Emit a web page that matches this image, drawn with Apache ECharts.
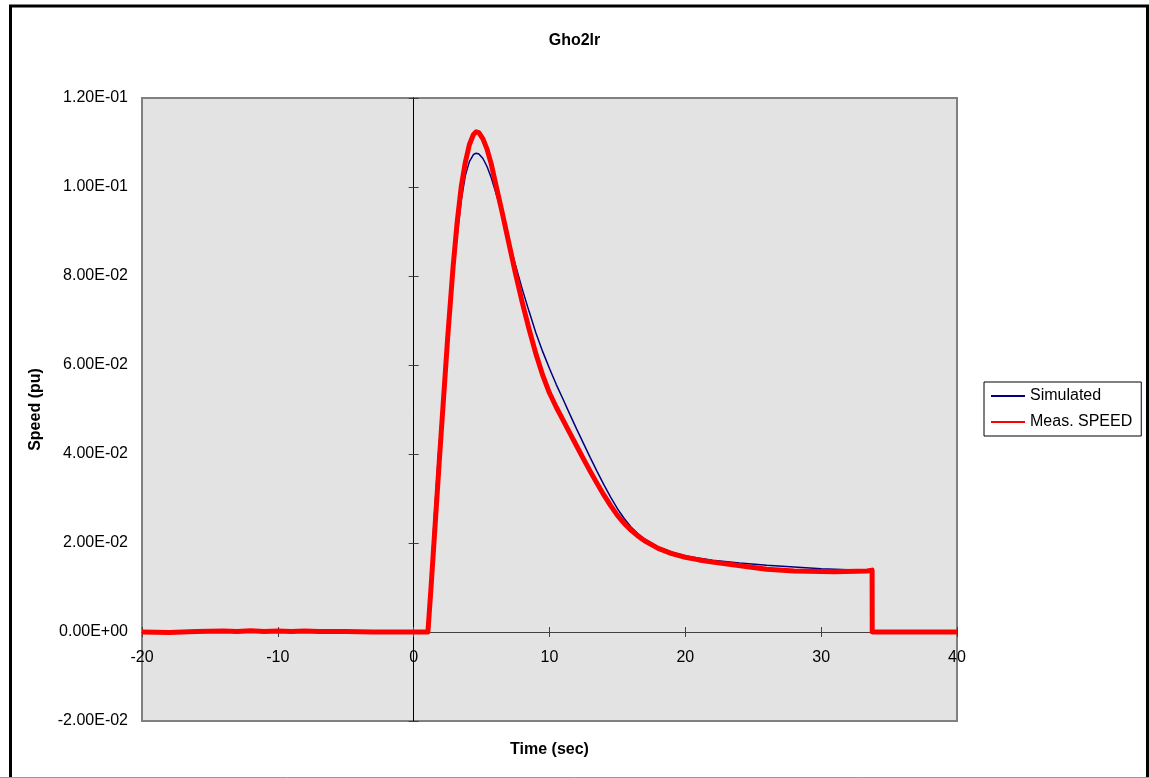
<!DOCTYPE html>
<html>
<head>
<meta charset="utf-8">
<script src="https://cdn.jsdelivr.net/npm/echarts@6/dist/echarts.min.js"></script>
<style>
html,body{margin:0;padding:0;background:#fff;}
#chart{width:1149px;height:778px;}
</style>
</head>
<body>
<div id="chart"></div>
<script>
// ---- Data ----
const chartTitle = 'Gho2lr';
const xAxisTitle = 'Time (sec)';
const yAxisTitle = 'Speed (pu)';
const seriesNames = ['Simulated', 'Meas. SPEED'];

const xTicks = [-20, -10, 0, 10, 20, 30, 40];
const yTicks = [-0.02, 0, 0.02, 0.04, 0.06, 0.08, 0.10, 0.12];

// Simulated (time in s, speed in pu)
const simTime = [-20, -10, 0, 0.95, 1.1, 1.3, 1.5, 1.8, 2.1, 2.5, 2.9, 3.2, 3.5, 3.8, 4.1, 4.4, 4.6, 4.8, 5.1, 5.4, 5.7, 6.0, 6.5, 7.0, 7.5, 8.0, 8.5, 9.0, 9.5, 10.0, 10.5, 11.0, 11.5, 12.0, 12.5, 13.0, 13.5, 14.0, 14.5, 15.0, 15.5, 16.0, 16.5, 17.0, 18.0, 19.0, 20.0, 22.0, 24.0, 26.0, 28.0, 30.0, 32.0, 33.75, 33.76, 40];
const simSpeed = [0, 0, 0, 0, 0.004, 0.014, 0.025, 0.039, 0.051, 0.066, 0.080, 0.089, 0.097, 0.1025, 0.1057, 0.1073, 0.1076, 0.1074, 0.1064, 0.1046, 0.1022, 0.0992, 0.0940, 0.0882, 0.0824, 0.0770, 0.0720, 0.0672, 0.0630, 0.0592, 0.0556, 0.0523, 0.0489, 0.0456, 0.0424, 0.0392, 0.0361, 0.0331, 0.0303, 0.0277, 0.0255, 0.0236, 0.0221, 0.0209, 0.0191, 0.0180, 0.0171, 0.0161, 0.0155, 0.0150, 0.0146, 0.0142, 0.0140, 0.0139, 0, 0];

// Measured speed
const measTime = [-20, -18, -16, -14, -13, -12, -11, -10, -9, -8, -7, -6, -5, -3, -1, 0, 1.05, 1.3, 1.6, 1.9, 2.1, 2.5, 2.9, 3.2, 3.5, 3.8, 4.1, 4.4, 4.6, 4.8, 5.1, 5.4, 5.7, 6.0, 6.5, 7.0, 7.5, 8.0, 8.5, 9.0, 9.5, 10.0, 10.5, 11.0, 11.5, 12.0, 12.5, 13.0, 13.5, 14.0, 14.5, 15.0, 15.5, 16.0, 16.5, 17.0, 18.0, 19.0, 20.0, 21.0, 22.0, 23.5, 25.0, 26.0, 28.0, 31.0, 33.4, 33.75, 33.76, 36, 40];
const measSpeed = [0, -0.0001, 0.0001, 0.0002, 0.0001, 0.0003, 0.0001, 0.0002, 0.0001, 0.0002, 0.0001, 0.0001, 0.0001, 0, 0, 0, 0, 0.011, 0.025, 0.039, 0.048, 0.066, 0.082, 0.092, 0.100, 0.1055, 0.1095, 0.1118, 0.1124, 0.1122, 0.1108, 0.1085, 0.1053, 0.1012, 0.0945, 0.0875, 0.0805, 0.0740, 0.0680, 0.0625, 0.0577, 0.0537, 0.0505, 0.0476, 0.0447, 0.0418, 0.0389, 0.0361, 0.0334, 0.0308, 0.0284, 0.0262, 0.0244, 0.0229, 0.0216, 0.0205, 0.0188, 0.0176, 0.0168, 0.0162, 0.0157, 0.0151, 0.0145, 0.0141, 0.0137, 0.01355, 0.0137, 0.0139, 0, 0, 0];

// ---- Build the chart ----
function pairs(xs, ys) { return xs.map((x, i) => [x, ys[i]]); }
function sci(v) {
  const s = Number(v).toExponential(2);
  const parts = s.split('e');
  const n = parseInt(parts[1], 10);
  return parts[0] + 'E' + (n < 0 ? '-' : '+') + String(Math.abs(n)).padStart(2, '0');
}

const FONT = 'Liberation Sans, Arial, sans-serif';
const xMin = xTicks[0], xMax = xTicks[xTicks.length - 1], xInt = xTicks[1] - xTicks[0];
const yMin = yTicks[0], yMax = yTicks[yTicks.length - 1], yInt = 0.02;
const gridH = 623;
// x axis sits on y = 0: shift it up from the grid bottom by the scale position of 0
const xAxisOffset = -gridH * (0 - yMin) / (yMax - yMin);

const chart = echarts.init(document.getElementById('chart'));
const baseX = { type: 'value', min: xMin, max: xMax, interval: xInt, splitLine: { show: false } };
const baseY = { type: 'value', min: yMin, max: yMax, interval: yInt, splitLine: { show: false } };

chart.setOption({
  animation: false,
  textStyle: { fontFamily: FONT, color: '#000' },
  title: {
    text: chartTitle, left: 'center', top: 33, padding: 0,
    textStyle: { fontFamily: FONT, fontSize: 16, fontWeight: 'bold', color: '#000' }
  },
  grid: {
    left: 142, top: 98, width: 815, height: gridH,
    show: true, backgroundColor: '#E3E3E3', borderColor: '#808080', borderWidth: 2,
    containLabel: false, outerBoundsMode: 'none'
  },
  legend: {
    orient: 'vertical', left: 984, top: 382,
    padding: [6, 9, 6, 6], itemGap: 10, itemWidth: 34, itemHeight: 14,
    borderColor: '#000', borderWidth: 1, backgroundColor: '#fff', borderRadius: 0,
    itemStyle: { opacity: 0 },
    textStyle: { fontFamily: FONT, fontSize: 16, color: '#000' },
    data: seriesNames
  },
  xAxis: [
    Object.assign({}, baseX, {
      position: 'bottom', offset: xAxisOffset,
      name: xAxisTitle, nameLocation: 'middle', nameGap: 110,
      nameTextStyle: { fontFamily: FONT, fontSize: 16, fontWeight: 'bold', color: '#000' },
      axisLine: { show: true, onZero: false, lineStyle: { color: '#404040', width: 1 } },
      axisTick: { show: true, inside: false, length: 5, lineStyle: { color: '#404040' } },
      axisLabel: { show: true, margin: 18, fontFamily: FONT, fontSize: 16, color: '#000' }
    }),
    Object.assign({}, baseX, {
      position: 'bottom', offset: xAxisOffset,
      axisLine: { show: true, onZero: false, lineStyle: { color: '#404040', width: 1 } },
      axisTick: { show: true, inside: true, length: 5, lineStyle: { color: '#404040' } },
      axisLabel: { show: false }
    })
  ],
  yAxis: [
    Object.assign({}, baseY, {
      position: 'left',
      name: yAxisTitle, nameLocation: 'middle', nameGap: 98, nameRotate: 90,
      nameTextStyle: { fontFamily: FONT, fontSize: 16, fontWeight: 'bold', color: '#000' },
      axisLine: { show: false, onZero: false },
      axisTick: { show: false },
      axisLabel: { show: true, margin: 14, fontFamily: FONT, fontSize: 16, color: '#000', formatter: sci }
    }),
    Object.assign({}, baseY, {
      position: 'left',
      axisLine: { show: true, onZero: true, onZeroAxisIndex: 0, lineStyle: { color: '#000', width: 1 } },
      axisTick: { show: true, inside: true, length: 5, lineStyle: { color: '#404040' } },
      axisLabel: { show: false }
    }),
    Object.assign({}, baseY, {
      position: 'left',
      axisLine: { show: true, onZero: true, onZeroAxisIndex: 0, lineStyle: { color: '#000', width: 1 } },
      axisTick: { show: true, inside: false, length: 5, lineStyle: { color: '#404040' } },
      axisLabel: { show: false }
    })
  ],
  series: [
    {
      name: seriesNames[0], type: 'line', xAxisIndex: 0, yAxisIndex: 0,
      data: pairs(simTime, simSpeed), showSymbol: false, symbol: 'none',
      lineStyle: { color: '#000080', width: 1.5 }, itemStyle: { color: '#000080' }, z: 3
    },
    {
      name: seriesNames[1], type: 'line', xAxisIndex: 0, yAxisIndex: 0,
      data: pairs(measTime, measSpeed), showSymbol: false, symbol: 'none',
      lineStyle: { color: '#FF0000', width: 5, join: 'round' }, itemStyle: { color: '#FF0000' }, z: 4
    }
  ],
  graphic: [
    { type: 'rect', silent: true, z: 100, shape: { x: 10.5, y: 6, width: 1137, height: 800 }, style: { fill: 'none', stroke: '#000', lineWidth: 3 } },
    { type: 'line', silent: true, z: 100, shape: { x1: 0, y1: 777.5, x2: 1149, y2: 777.5 }, style: { stroke: '#999', lineWidth: 1 } }
  ]
});
</script>
</body>
</html>
